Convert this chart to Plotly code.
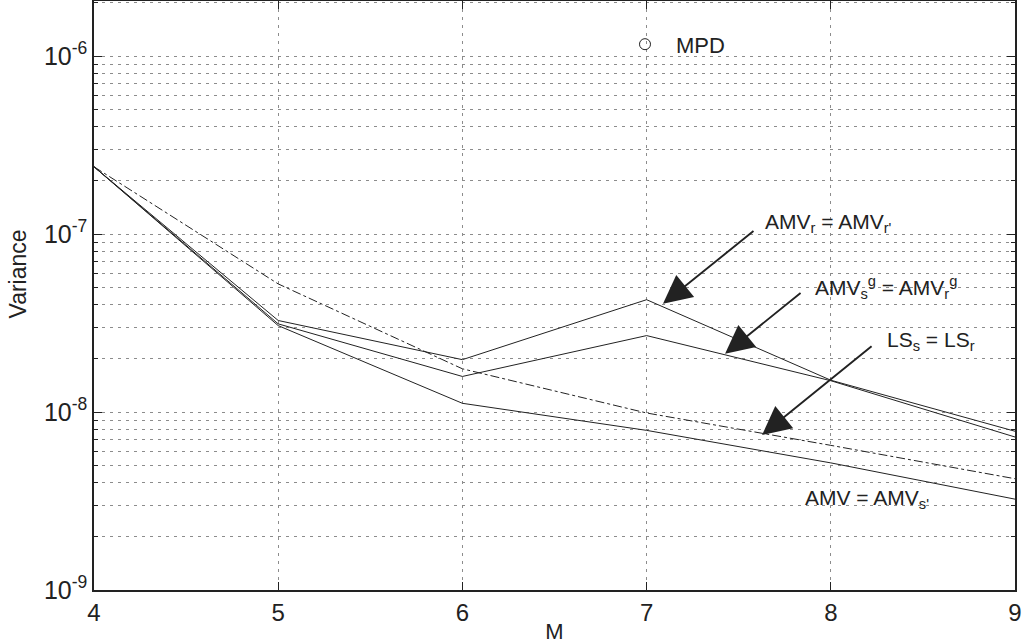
import plotly.graph_objects as go

M = [4, 5, 6, 7, 8, 9]
amv_r = [2.39e-7, 3.27e-8, 1.97e-8, 4.28e-8, 1.51e-8, 7.8e-9]
amv_g = [2.39e-7, 3.13e-8, 1.585e-8, 2.69e-8, 1.50e-8, 7.24e-9]
amv = [2.39e-7, 3.06e-8, 1.12e-8, 7.89e-9, 5.18e-9, 3.24e-9]
ls = [2.39e-7, 5.25e-8, 1.75e-8, 9.88e-9, 6.5e-9, 4.22e-9]

major_vals = [1e-9, 1e-8, 1e-7, 1e-6]
major_text = ["10<sup>-9</sup>", "10<sup>-8</sup>", "10<sup>-7</sup>", "10<sup>-6</sup>"]
minor_vals = [k * d for d in [1e-9, 1e-8, 1e-7, 1e-6] for k in range(2, 10)]

FONT = "Liberation Sans, Arial, sans-serif"
INK = "#222222"
GRID = "#8c8c8c"

fig = go.Figure()
for ys, dash in [(amv_r, "solid"), (amv_g, "solid"), (amv, "solid"), (ls, "dashdot")]:
    fig.add_trace(go.Scatter(x=M, y=ys, mode="lines", showlegend=False,
                             line=dict(color=INK, width=1, dash=dash)))
fig.add_trace(go.Scatter(x=[None], y=[None], mode="markers", name="MPD", showlegend=True,
                         marker=dict(symbol="circle-open", size=11, color=INK, line=dict(width=1))))

arrows = [
    (7.089, -7.392, 92, -74),
    (7.426, -7.673, 77, -62),
    (7.627, -8.129, 111, -90),
]
for x, y, ax, ay in arrows:
    fig.add_annotation(x=x, y=y, ax=ax, ay=ay, xref="x", yref="y", text="",
                       showarrow=True, arrowhead=2, arrowsize=3.0, arrowwidth=1.9,
                       arrowcolor=INK)

labels = [
    (7.63, -6.94, "AMV<sub>r</sub> = AMV<sub>r'</sub>"),
    (7.903, -7.30, "AMV<sub>s</sub><sup>g</sup> = AMV<sub>r</sub><sup>g</sup>"),
    (8.294, -7.60, "LS<sub>s</sub> = LS<sub>r</sub>"),
    (7.849, -8.49, "AMV = AMV<sub>s'</sub>"),
]
for x, y, t in labels:
    fig.add_annotation(x=x, y=y, xref="x", yref="y", text=t, showarrow=False,
                       xanchor="left", yanchor="middle",
                       font=dict(family=FONT, size=21, color=INK))

# y-axis title
fig.add_annotation(x=-0.082, y=0.5365, xref="paper", yref="paper", text="Variance",
                   showarrow=False, textangle=-90, xanchor="center", yanchor="middle",
                   font=dict(family=FONT, size=23, color=INK))

fig.update_layout(
    width=1023, height=644,
    margin=dict(l=94, r=8, t=1, b=54),
    paper_bgcolor="white", plot_bgcolor="white",
    font=dict(family=FONT, size=22, color=INK),
    showlegend=True,
    legend=dict(x=0.5646, y=0.962, xanchor="left", yanchor="top", itemwidth=52,
                bgcolor="rgba(0,0,0,0)", font=dict(family=FONT, size=22, color=INK)),
)
fig.update_xaxes(
    range=[4, 9], tickvals=M, ticktext=[str(m) for m in M],
    showline=True, linecolor=INK, linewidth=1.5, mirror="ticks",
    ticks="inside", ticklen=8, tickcolor=INK,
    showgrid=True, gridcolor=GRID, griddash="3px,5px", gridwidth=1,
    zeroline=False, automargin=False, ticklabeloverflow="allow",
    title=dict(text="M", font=dict(size=22), standoff=0),
    tickfont=dict(size=24),
)
fig.update_yaxes(
    type="log", range=[-9, -5.69],
    tickvals=major_vals, ticktext=major_text,
    showline=True, linecolor=INK, linewidth=1.5, mirror="ticks",
    ticks="inside", ticklen=8, tickcolor=INK,
    showgrid=True, gridcolor=GRID, griddash="3px,5px", gridwidth=1,
    minor=dict(tickvals=minor_vals, ticks="inside", ticklen=4, tickcolor=INK,
               showgrid=True, gridcolor=GRID, griddash="3px,5px", gridwidth=1),
    zeroline=False, automargin=False, ticklabeloverflow="allow",
    tickfont=dict(size=25),
)

fig.write_html("out.html", config={"displayModeBar": False},
               post_script="document.body.style.margin='0';document.body.style.overflow='hidden';")
